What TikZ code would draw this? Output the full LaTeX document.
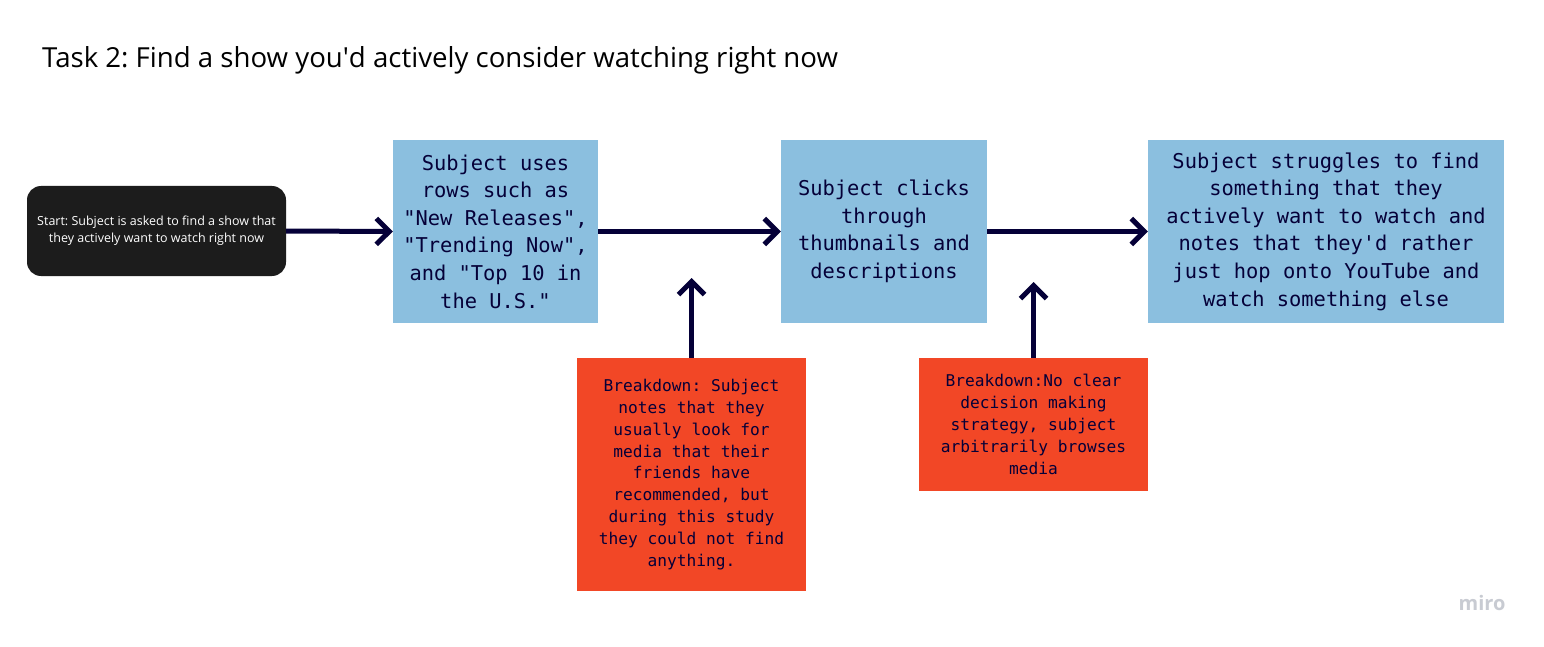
\documentclass[tikz,border=0pt]{standalone}
\usepackage{fontspec}
\setmainfont{Open Sans}
\newfontfamily\plexmono{DejaVu Sans Mono}
\usetikzlibrary{arrows.meta}
\frenchspacing
\definecolor{navy}{HTML}{050038}
\definecolor{stepblue}{HTML}{8BBFDF}
\definecolor{stepred}{HTML}{F24726}
\definecolor{startblack}{HTML}{1C1C1C}
\definecolor{mirogray}{HTML}{C8CBD2}
\tikzset{
  flowarrow/.style={navy, line width=5pt, -{Straight Barb[length=13pt,width=26pt,line width=5pt]}},
  startbox/.style={fill=startblack, rounded corners=14pt, text=white, align=center,
    minimum width=259pt, minimum height=90pt, inner sep=0pt,
    font=\fontsize{12.5}{17}\selectfont},
  bluebox/.style={fill=stepblue, text=navy, align=center, minimum height=183pt, inner sep=0pt,
    font=\plexmono\fontsize{20.4}{27.6}\selectfont},
  redbox/.style={fill=stepred, text=navy, align=center, minimum width=229pt, inner sep=0pt,
    font=\plexmono\fontsize{16.2}{21.8}\selectfont},
}
\begin{document}
\begin{tikzpicture}[x=1pt,y=-1pt]
\useasboundingbox[fill=white] (0,0) rectangle (1544,647);
\node[anchor=base west, inner sep=0pt, font=\fontsize{27.6}{32}\selectfont, text=black] (title) at (42,68)
  {Task 2: Find a show you\textquotesingle d actively consider watching right now};
\node[startbox] (start) at (156.5,231) {Start: Subject is asked to find a show that\\they actively want to watch right now};
\node[bluebox, minimum width=205pt] (rows) at (495.5,231.5)
  {Subject uses\\rows such as\\"New Releases",\\"Trending Now",\\and "Top 10 in\\the U.S."};
\node[bluebox, minimum width=206pt] (clicks) at (884,231.5)
  {Subject clicks\\through\\thumbnails and\\descriptions};
\node[bluebox, minimum width=356pt] (struggle) at (1326,231.5)
  {Subject struggles to find\\something that they\\actively want to watch and\\notes that they'd rather\\just hop onto YouTube and\\watch something else};
\node[redbox, minimum height=233pt] (bd1) at (691.5,474.5)
  {Breakdown: Subject\\notes that they\\usually look for\\media that their\\friends have\\recommended, but\\during this study\\they could not find\\anything.};
\node[redbox, minimum height=133pt] (bd2) at (1033.5,424.5)
  {Breakdown:No clear\\decision making\\strategy, subject\\arbitrarily browses\\media};
\coordinate (up1) at (691.5,278);
\coordinate (up2) at (1033.5,282);
\draw[flowarrow] (start.east) -- (rows.west);
\draw[flowarrow] (rows.east) -- (clicks.west);
\draw[flowarrow] (clicks.east) -- (struggle.west);
\draw[flowarrow] (bd1.north) -- (up1);
\draw[flowarrow] (bd2.north) -- (up2);
\node[text=mirogray, font=\bfseries\fontsize{20}{24}\selectfont] (miro) at (1482,603) {miro};
\end{tikzpicture}
\end{document}
